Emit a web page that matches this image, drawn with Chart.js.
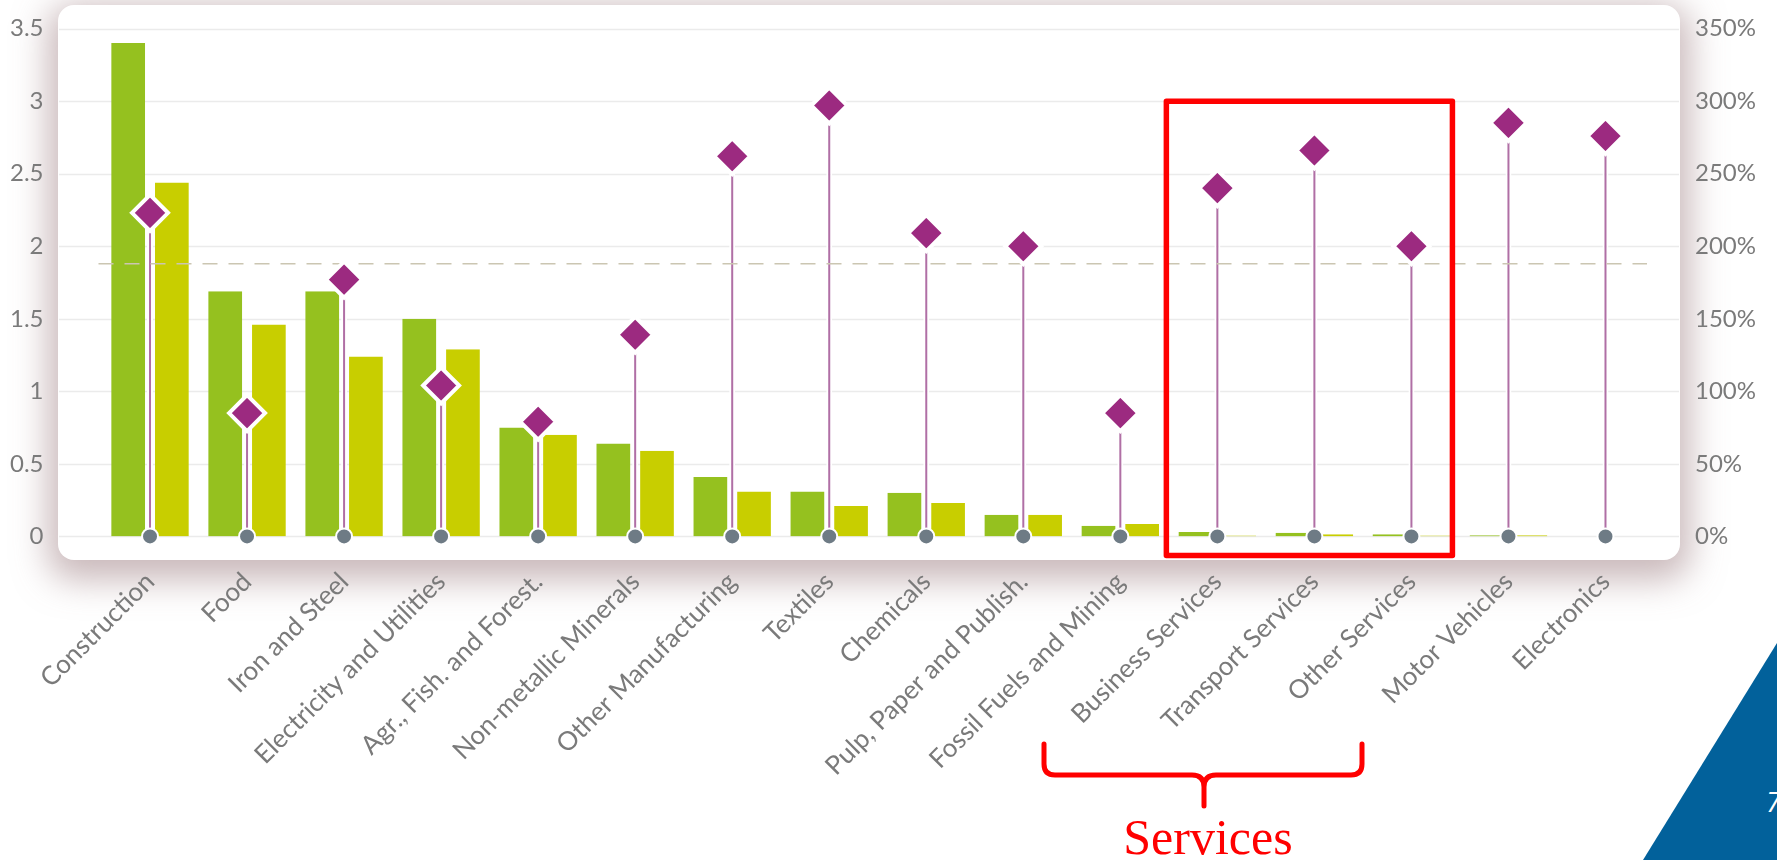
<!DOCTYPE html>
<html>
<head>
<meta charset="utf-8">
<script src="https://cdn.jsdelivr.net/npm/chart.js@4.4.1/dist/chart.umd.min.js"></script>
<style>
  html, body { margin: 0; padding: 0; background: #fff; overflow: hidden; }
  #stage { position: relative; width: 1777px; height: 860px; overflow: hidden; }
  #panel {
    position: absolute; left: 58px; top: 5px; width: 1622px; height: 555px;
    background: #fff; border-radius: 16px;
    box-shadow: 0 10px 34px 10px rgba(150, 115, 120, 0.5);
  }
  #chart { position: absolute; left: 0; top: 0; }
  #services {
    position: absolute; left: 1058px; top: 812px; width: 300px; text-align: center;
    font-family: "Liberation Serif", serif; font-size: 50px; line-height: 50px; color: #ff0000;
  }
  #corner {
    position: absolute; left: 0; top: 0; width: 1777px; height: 860px;
    background: #02619b; clip-path: polygon(1777px 643px, 1643px 860px, 1777px 860px);
  }
  #pagenum {
    position: absolute; left: 1766px; top: 782px; color: #fff;
    font-family: "Open Sans", sans-serif; font-style: italic; font-size: 28px;
  }
</style>
</head>
<body>
<div id="stage">
  <div id="panel"></div>
  <div id="corner"></div>
  <div id="pagenum">7</div>
  <canvas id="chart" width="1777" height="860"></canvas>
  <div id="services">Services</div>
</div>
<script>
// Sectors along the x axis
const sectors = [
  "Construction", "Food", "Iron and Steel", "Electricity and Utilities",
  "Agr., Fish. and Forest.", "Non-metallic Minerals", "Other Manufacturing",
  "Textiles", "Chemicals", "Pulp, Paper and Publish.", "Fossil Fuels and Mining",
  "Business Services", "Transport Services", "Other Services", "Motor Vehicles", "Electronics"
];

// left axis values (bars)
const greenValues  = [3.40, 1.69, 1.69, 1.50, 0.75, 0.64, 0.41, 0.31, 0.30, 0.15, 0.074, 0.030, 0.025, 0.015, 0.008, 0];
const yellowValues = [2.44, 1.46, 1.24, 1.29, 0.70, 0.59, 0.31, 0.21, 0.23, 0.15, 0.086, 0.006, 0.015, 0.007, 0.008, 0];

// right axis values (diamonds, %)
const diamondPct = [223, 85, 177, 104, 79, 139, 262, 297, 209, 200, 85, 240, 266, 200, 285, 276];
const baseDots   = [0, 0, 0, 0, 0, 0, 0, 0, 0, 0, 0, 0, 0, 0, 0, 0];

const leftTickLabels  = ["0", "0.5", "1", "1.5", "2", "2.5", "3", "3.5"];
const rightTickLabels = ["0%", "50%", "100%", "150%", "200%", "250%", "300%", "350%"];
const dashedLevel = 1.88;

const tickGray = "#7a7a7a";
Chart.defaults.font.family = "Lato";

// gridlines run across the whole white panel, not only the plot area
const panelGrid = {
  id: "panelGrid",
  beforeDatasetsDraw(chart) {
    const ctx = chart.ctx, y = chart.scales.y;
    ctx.save();
    ctx.strokeStyle = "#ebebeb";
    ctx.lineWidth = 1.5;
    y.ticks.forEach(t => {
      const py = Math.round(y.getPixelForValue(t.value)) + 0.5;
      ctx.beginPath();
      ctx.moveTo(59, py);
      ctx.lineTo(1679, py);
      ctx.stroke();
    });
    ctx.restore();
  },
  afterDatasetDraw(chart, args) {
    if (args.index !== 2) return;
    const ctx = chart.ctx, area = chart.chartArea;
    const py = chart.scales.y.getPixelForValue(dashedLevel);
    ctx.save();
    ctx.strokeStyle = "#cbc6b2";
    ctx.lineWidth = 1.5;
    ctx.setLineDash([15, 11]);
    ctx.beginPath();
    ctx.moveTo(area.left - 3, py);
    ctx.lineTo(area.right - 7, py);
    ctx.stroke();
    ctx.restore();
  }
};

// red box around the services + brace under their labels
const servicesMark = {
  id: "servicesMark",
  afterDraw(chart) {
    const ctx = chart.ctx, x = chart.scales.x, y = chart.scales.y;
    const left = x.getPixelForValue(11) - 51;
    const right = x.getPixelForValue(13) + 41;
    const top = y.getPixelForValue(3);
    const bottom = chart.chartArea.bottom + 19;
    ctx.save();
    ctx.strokeStyle = "#ff0000";
    ctx.lineWidth = 5.5;
    ctx.lineJoin = "round";
    ctx.strokeRect(left, top, right - left, bottom - top);

    ctx.lineWidth = 5;
    ctx.lineCap = "round";
    ctx.beginPath();
    ctx.moveTo(1044, 744);
    ctx.lineTo(1044, 764);
    ctx.quadraticCurveTo(1044, 775, 1055, 775);
    ctx.lineTo(1192, 775);
    ctx.quadraticCurveTo(1204, 775, 1204, 787);
    ctx.lineTo(1204, 806);
    ctx.moveTo(1204, 787);
    ctx.quadraticCurveTo(1204, 775, 1216, 775);
    ctx.lineTo(1351, 775);
    ctx.quadraticCurveTo(1362, 775, 1362, 764);
    ctx.lineTo(1362, 744);
    ctx.stroke();
    ctx.restore();
  }
};

new Chart(document.getElementById("chart"), {
  type: "bar",
  data: {
    labels: sectors,
    datasets: [
      {
        label: "green",
        data: greenValues,
        backgroundColor: "#95c11f",
        borderColor: "rgba(0,0,0,0)",
        borderWidth: { left: 5, right: 5 },
        categoryPercentage: 0.9,
        barPercentage: 1.0,
        yAxisID: "y",
        order: 5
      },
      {
        label: "yellow",
        data: yellowValues,
        backgroundColor: "#c8ce00",
        borderColor: "rgba(0,0,0,0)",
        borderWidth: { left: 5, right: 5 },
        categoryPercentage: 0.9,
        barPercentage: 1.0,
        yAxisID: "y",
        order: 5
      },
      {
        label: "stems",
        data: diamondPct.map(v => [0, v]),
        backgroundColor: "#b06fa5",
        borderColor: "#ffffff",
        borderWidth: { left: 2, right: 2 },
        grouped: false,
        maxBarThickness: 6,
        yAxisID: "y2",
        order: 3
      },
      {
        type: "line",
        label: "base",
        data: baseDots,
        showLine: false,
        pointRadius: 8,
        pointBackgroundColor: "#6e7b85",
        pointBorderColor: "#ffffff",
        pointBorderWidth: 2,
        yAxisID: "y",
        clip: false,
        order: 2
      },
      {
        type: "line",
        label: "share",
        data: diamondPct,
        showLine: false,
        pointStyle: "rectRot",
        pointRadius: 18,
        pointBackgroundColor: "#9c2a80",
        pointBorderColor: "#ffffff",
        pointBorderWidth: 4,
        yAxisID: "y2",
        clip: false,
        order: 1
      }
    ]
  },
  options: {
    responsive: false,
    animation: false,
    layout: { padding: { top: 28.6, left: 0, right: 0, bottom: 0 } },
    plugins: { legend: { display: false }, tooltip: { enabled: false } },
    scales: {
      x: {
        offset: true,
        grid: { display: false, drawTicks: false },
        border: { display: false },
        ticks: {
          color: tickGray,
          font: { size: 26 },
          maxRotation: 45,
          minRotation: 45,
          padding: 30,
          autoSkip: false
        },
        afterFit(scale) {
          scale.height = 323.6;
          scale.paddingLeft = 0;
          scale.paddingRight = 0;
        }
      },
      y: {
        position: "left",
        min: 0,
        max: 3.5,
        grid: { display: false, drawTicks: false },
        border: { display: false },
        ticks: {
          stepSize: 0.5,
          color: tickGray,
          font: { size: 24 },
          padding: 58,
          callback: (v, i) => leftTickLabels[i]
        },
        afterFit(scale) {
          scale.width = 101.5;
          scale.paddingTop = 0;
          scale.paddingBottom = 0;
        }
      },
      y2: {
        position: "right",
        min: 0,
        max: 350,
        grid: { display: false, drawTicks: false },
        border: { display: false },
        ticks: {
          stepSize: 50,
          color: tickGray,
          font: { size: 24 },
          padding: 41,
          callback: (v, i) => rightTickLabels[i]
        },
        afterFit(scale) {
          scale.width = 123;
          scale.paddingTop = 0;
          scale.paddingBottom = 0;
        }
      }
    }
  },
  plugins: [panelGrid, servicesMark]
});
</script>
</body>
</html>
